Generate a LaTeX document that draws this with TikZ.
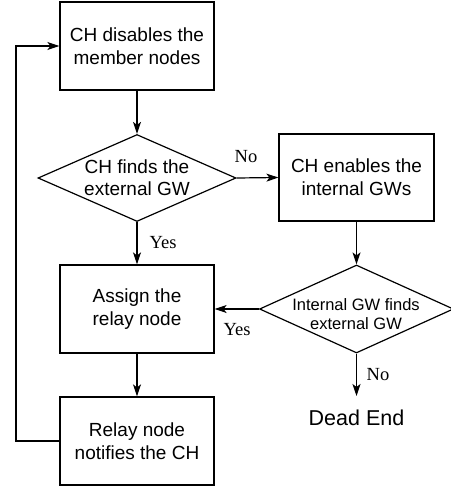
\documentclass[tikz,border=0pt]{standalone}
\usepackage{fontspec}
\setmainfont{Liberation Serif}
\newfontfamily\arialf{Liberation Sans}
\usetikzlibrary{shapes.geometric,arrows.meta}
\begin{document}
\begin{tikzpicture}[x=1pt,y=-1pt,
  every path/.style={line width=1.2pt},
  box/.style={draw, line width=1.2pt, minimum width=154pt, minimum height=88pt, inner sep=0pt,
    align=center, font=\arialf\fontsize{19}{23}\selectfont},
  dia/.style={draw, diamond, line width=1.2pt, inner sep=0pt, aspect=2},
  dtext/.style={align=center, inner sep=0pt},
  lbl/.style={inner sep=0pt, font=\fontsize{18.5}{20}\selectfont},
  arr/.style={-{Stealth[length=12pt,width=8pt,inset=3pt]}, line width=1.2pt}
]
\useasboundingbox (0,0) rectangle (450,487);
\node[box] (b1) at (137,46) {CH disables the\\member nodes};
\node[dia, minimum width=198pt, minimum height=87pt] (d1) at (137,178) {};
\node[dtext, font=\arialf\fontsize{19}{22}\selectfont] (t1) at (137,177.5) {CH finds the\\external GW};
\node[box, minimum width=155pt, minimum height=87pt] (b2) at (356.5,177.5) {CH enables the\\internal GWs};
\node[box] (b3) at (137,309) {Assign the\\relay node};
\node[dia, minimum width=194pt, minimum height=88pt] (d2) at (356.5,309) {};
\node[dtext, font=\arialf\fontsize{16.5}{19.5}\selectfont] (t2) at (356,314) {Internal GW finds\\external GW};
\node[box] (b4) at (137,441) {Relay node\\notifies the CH};
\node[inner sep=0pt, font=\arialf\fontsize{21.5}{24}\selectfont] (de) at (356.5,418) {Dead End};
\coordinate (deN) at (356.5,396);
\coordinate (lb) at (16,441);
\coordinate (lt) at (16,46);

\draw[arr] (b1.south) -- (d1.north);
\draw[arr] (d1.east) -- (b2.west);
\draw[arr] (d1.south) -- (b3.north);
\draw[arr] (b2.south) -- (d2.north);
\draw[arr] (d2.west) -- (b3.east);
\draw[arr] (b3.south) -- (b4.north);
\draw[arr] (d2.south) -- (deN);
\draw[arr] (b4.west) -- (lb) -- (lt) -- (b1.west);

\node[lbl] (no1) at (246,157) {No};
\node[lbl] (yes1) at (163,243) {Yes};
\node[lbl] (yes2) at (237,330) {Yes};
\node[lbl] (no2) at (378,375) {No};
\end{tikzpicture}
\end{document}
